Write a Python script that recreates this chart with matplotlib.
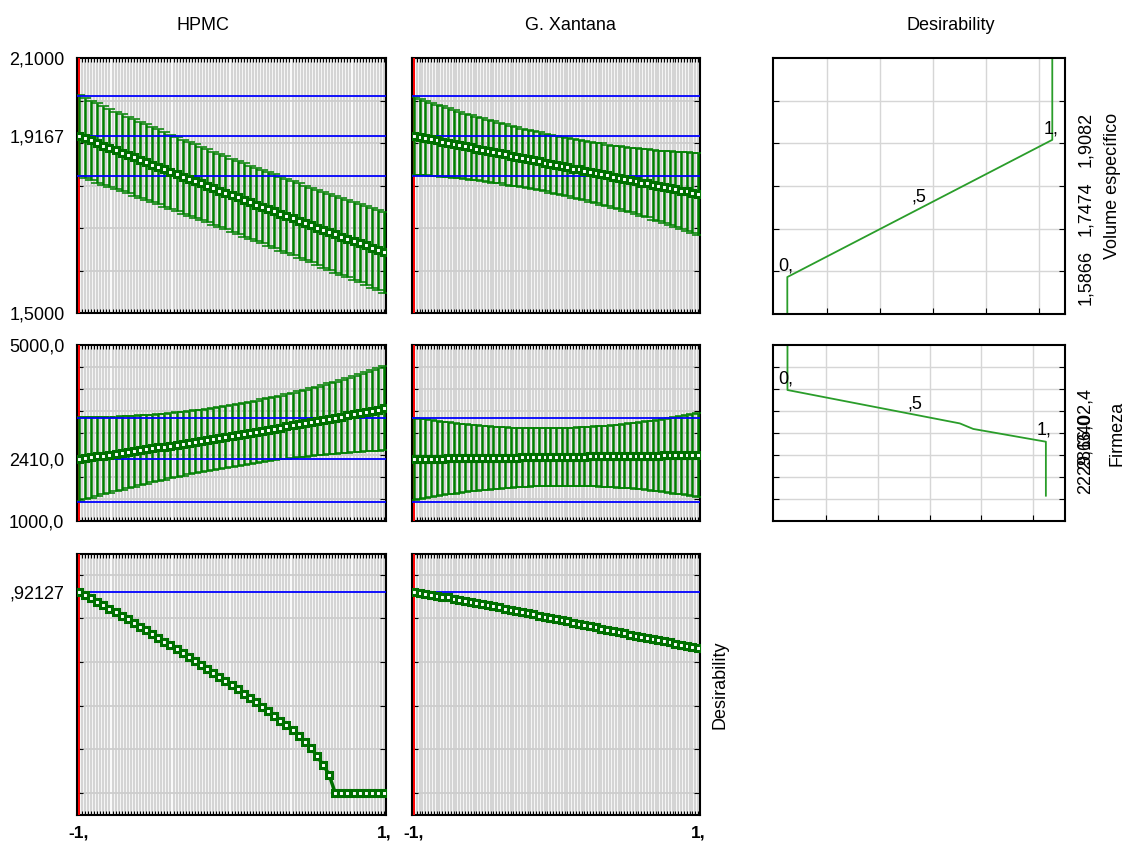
import numpy as np
import matplotlib.pyplot as plt
from matplotlib.transforms import blended_transform_factory as blend

plt.rcParams['font.family'] = ['Liberation Sans', 'DejaVu Sans']
plt.rcParams['font.size'] = 13

W, H = 1128, 844

# coded factor levels (-1 .. 1), same grid for both factors
levels = np.linspace(-1, 1, 51)

# Volume especifico: predicted mean and confidence half-width
vol_hpmc_mean = [1.917, 1.911, 1.906, 1.900, 1.894, 1.889, 1.883, 1.877, 1.872, 1.866,
                 1.860, 1.855, 1.849, 1.844, 1.838, 1.832, 1.827, 1.821, 1.816, 1.810,
                 1.805, 1.799, 1.794, 1.788, 1.783, 1.777, 1.772, 1.766, 1.761, 1.755,
                 1.750, 1.744, 1.739, 1.734, 1.728, 1.723, 1.717, 1.712, 1.707, 1.701,
                 1.696, 1.691, 1.685, 1.680, 1.675, 1.669, 1.664, 1.659, 1.654, 1.648, 1.643]
vol_hpmc_err = [0.095, 0.094, 0.094, 0.093, 0.092, 0.092, 0.091, 0.091, 0.090, 0.090,
                0.089, 0.089, 0.088, 0.088, 0.088, 0.087, 0.087, 0.087, 0.087, 0.087,
                0.086, 0.086, 0.086, 0.086, 0.086, 0.086, 0.086, 0.086, 0.086, 0.086,
                0.086, 0.087, 0.087, 0.087, 0.087, 0.087, 0.088, 0.088, 0.088, 0.089,
                0.089, 0.090, 0.090, 0.091, 0.091, 0.092, 0.092, 0.093, 0.094, 0.094, 0.095]
vol_xan_mean = [1.917, 1.914, 1.912, 1.909, 1.906, 1.903, 1.901, 1.898, 1.895, 1.892,
                1.890, 1.887, 1.884, 1.881, 1.879, 1.876, 1.873, 1.870, 1.868, 1.865,
                1.862, 1.860, 1.857, 1.854, 1.851, 1.849, 1.846, 1.843, 1.840, 1.838,
                1.835, 1.832, 1.829, 1.827, 1.824, 1.821, 1.818, 1.816, 1.813, 1.810,
                1.807, 1.805, 1.802, 1.799, 1.796, 1.794, 1.791, 1.788, 1.786, 1.783, 1.780]
vol_xan_err = [0.092, 0.090, 0.088, 0.086, 0.084, 0.083, 0.081, 0.080, 0.078, 0.077,
               0.076, 0.075, 0.074, 0.073, 0.072, 0.071, 0.071, 0.070, 0.069, 0.069,
               0.069, 0.068, 0.068, 0.068, 0.068, 0.068, 0.068, 0.068, 0.069, 0.069,
               0.070, 0.070, 0.071, 0.072, 0.072, 0.073, 0.074, 0.075, 0.076, 0.078,
               0.079, 0.080, 0.082, 0.083, 0.085, 0.087, 0.088, 0.090, 0.092, 0.094, 0.097]

# Firmeza: predicted mean and confidence half-width
firm_hpmc_mean = [2410, 2429, 2448, 2468, 2487, 2507, 2527, 2547, 2567, 2587,
                  2608, 2629, 2650, 2671, 2692, 2713, 2734, 2756, 2778, 2800,
                  2822, 2844, 2867, 2889, 2912, 2935, 2958, 2981, 3005, 3028,
                  3052, 3076, 3100, 3124, 3148, 3173, 3198, 3223, 3248, 3273,
                  3298, 3323, 3349, 3375, 3401, 3427, 3453, 3480, 3506, 3533, 3560]
firm_hpmc_err = [957, 937, 918, 899, 881, 864, 848, 833, 819, 805,
                 793, 781, 769, 759, 750, 741, 733, 726, 720, 715,
                 710, 707, 704, 702, 700, 700, 700, 702, 704, 707,
                 710, 715, 720, 726, 733, 741, 750, 759, 769, 781,
                 793, 805, 819, 833, 848, 864, 881, 899, 918, 937, 957]
firm_xan_mean = [2410, 2412, 2414, 2415, 2417, 2419, 2421, 2423, 2424, 2426,
                 2428, 2430, 2432, 2433, 2435, 2437, 2439, 2441, 2442, 2444,
                 2446, 2448, 2450, 2451, 2453, 2455, 2457, 2459, 2460, 2462,
                 2464, 2466, 2468, 2469, 2471, 2473, 2475, 2477, 2478, 2480,
                 2482, 2484, 2486, 2487, 2489, 2491, 2493, 2495, 2496, 2498, 2500]
firm_xan_err = [940, 917, 896, 875, 855, 836, 818, 801, 785, 770,
                756, 743, 730, 719, 708, 699, 690, 683, 676, 670,
                665, 661, 658, 656, 655, 655, 656, 657, 660, 664,
                668, 674, 680, 687, 696, 705, 715, 726, 738, 751,
                765, 780, 795, 812, 830, 848, 868, 888, 909, 932, 955]

# overall desirability
des_hpmc = [0.921, 0.907, 0.892, 0.877, 0.861, 0.845, 0.829, 0.813, 0.797, 0.780,
            0.763, 0.746, 0.729, 0.712, 0.694, 0.677, 0.659, 0.641, 0.623, 0.605,
            0.587, 0.569, 0.550, 0.532, 0.513, 0.494, 0.475, 0.456, 0.436, 0.416,
            0.396, 0.375, 0.354, 0.332, 0.310, 0.287, 0.262, 0.236, 0.208, 0.170,
            0.130, 0.085, 0, 0, 0, 0, 0, 0, 0, 0, 0]
des_xan = [0.921, 0.917, 0.913, 0.909, 0.904, 0.900, 0.896, 0.891, 0.886, 0.881,
           0.877, 0.872, 0.866, 0.861, 0.856, 0.851, 0.845, 0.840, 0.834, 0.829,
           0.824, 0.818, 0.813, 0.807, 0.802, 0.797, 0.791, 0.786, 0.780, 0.775,
           0.770, 0.764, 0.759, 0.753, 0.748, 0.743, 0.737, 0.732, 0.726, 0.721,
           0.716, 0.711, 0.705, 0.700, 0.695, 0.690, 0.685, 0.679, 0.674, 0.669, 0.664]

# current predicted values with confidence limits (blue lines)
vol_now = [2.0106, 1.9167, 1.8223]
firm_now = [3333, 2410, 1439]
des_now = 0.92127

# desirability functions (desirability, response)
vol_fun_d = [0, 0, 0.5, 1, 1]
vol_fun_y = [1.5, 1.5866, 1.7474, 1.9082, 2.1]
firm_fun_d = [0, 0, 0.667, 0.719, 1, 1]
firm_fun_y = [5000, 3977, 3218, 3092, 2802, 1575]
vol_fun_pts = [(0, 1.5866, '0,'), (0.5, 1.7474, ',5'), (1, 1.9082, '1,')]
firm_fun_pts = [(0, 3977, '0,'), (0.5, 3408, ',5'), (1, 2802, '1,')]
vol_marks = [1.5866, 1.7474, 1.9082]
vol_mark_text = ['1,5866', '1,7474', '1,9082']
firm_marks = [2229.6, 2816.0, 3402.4]
firm_mark_text = ['2229,6', '2816,0', '3402,4']

GREEN = '#008000'
DARK = '#007000'

fig = plt.figure(figsize=(W / 100, H / 100), dpi=100)


def box(l, t, w, h):
    return fig.add_axes([l / W, 1 - (t + h) / H, w / W, h / H])


def profile(ax, mean, err, ylim, grid_y, now, ylabels=None):
    ax.set_xlim(-1.013, 1.013)
    ax.set_ylim(*ylim)
    ax.set_xticks(np.linspace(-1, 1, 101))
    ax.tick_params(axis='x', direction='in', length=3, width=0.8, top=True,
                   labelbottom=False)
    ax.grid(axis='x', color='#d4d4d4', lw=1.6)
    ax.set_yticks(grid_y, minor=True)
    ax.tick_params(axis='y', which='minor', direction='in', length=4, width=0.8,
                   right=True)
    ax.grid(axis='y', which='minor', color='#cdcdcd', lw=1.3)
    if ylabels:
        ax.set_yticks(ylabels[0])
        ax.set_yticklabels(ylabels[1])
    else:
        ax.set_yticks([])
    ax.tick_params(axis='y', which='major', length=0, pad=9, labelsize=13)
    ax.set_axisbelow(True)
    ax.axvline(-1, color='red', lw=1.4, zorder=3)
    if err is not None:
        ax.errorbar(levels, mean, yerr=err, fmt='none', ecolor=GREEN,
                    elinewidth=1.8, capsize=4.4, capthick=1.1, zorder=3)
    for v in now:
        ax.axhline(v, color='#0000ff', lw=1.3, zorder=4)
    ax.plot(levels, mean, color=DARK, lw=2.5, marker='s', ms=5, mfc='white',
            mec=DARK, mew=2.2, zorder=5)
    for s in ax.spines.values():
        s.set_linewidth(1.5)


def des_fun(ax, d, y, xlim, ylim, grid_y, pts, marks, mark_text, name, name_x):
    ax.set_xlim(*xlim)
    ax.set_ylim(*ylim)
    ax.set_xticks([0.15, 0.35, 0.55, 0.75, 0.95])
    ax.set_yticks(grid_y)
    ax.tick_params(direction='in', length=4, width=0.8, right=True,
                   labelbottom=False, labelleft=False)
    ax.grid(color='#d6d6d6', lw=1.0)
    ax.set_axisbelow(True)
    ax.plot(d, y, color='#2a9d2a', lw=1.3, clip_on=False)
    for px, py, t in pts:
        ax.annotate(t, (px, py), xytext=(-1, 2), textcoords='offset points',
                    ha='center', va='bottom', fontsize=13)
    tr = blend(ax.transAxes, ax.transData)
    for v, t in zip(marks, mark_text):
        ax.text(1.069, v, t, transform=tr, rotation=90, ha='center', va='center',
                fontsize=13)
    ax.text(name_x, 0.5, name, transform=ax.transAxes, rotation=90,
            ha='center', va='center', fontsize=13)
    for s in ax.spines.values():
        s.set_linewidth(1.5)


vol_grid = [1.6, 1.7, 1.8, 1.9, 2.0]
firm_grid = [1500, 2000, 2500, 3000, 3500, 4000, 4500]
des_grid = [0, 0.2, 0.4, 0.6, 0.8, 1.0]

a = box(77, 58, 309, 255)
profile(a, vol_hpmc_mean, vol_hpmc_err, (1.5, 2.1), vol_grid, vol_now,
        ([1.5, 1.9167, 2.1], ['1,5000', '1,9167', '2,1000']))
a = box(412, 58, 288, 255)
profile(a, vol_xan_mean, vol_xan_err, (1.5, 2.1), vol_grid, vol_now)

a = box(77, 345, 309, 176)
profile(a, firm_hpmc_mean, firm_hpmc_err, (1000, 5000), firm_grid, firm_now,
        ([1000, 2410, 5000], ['1000,0', '2410,0', '5000,0']))
a = box(412, 345, 288, 176)
profile(a, firm_xan_mean, firm_xan_err, (1000, 5000), firm_grid, firm_now)

bottom_axes = []
a = box(77, 554, 309, 261)
profile(a, des_hpmc, None, (-0.1, 1.095), des_grid, [des_now],
        ([des_now], [',92127']))
bottom_axes.append(a)
a = box(412, 554, 288, 261)
profile(a, des_xan, None, (-0.1, 1.095), des_grid, [des_now])
bottom_axes.append(a)
a.text(1.069, 0.5, 'Desirability', transform=a.transAxes, rotation=90,
       ha='center', va='center', fontsize=13)
for a in bottom_axes:
    tr = blend(a.transData, a.transAxes)
    a.text(-1, -0.07, '-1,', transform=tr, ha='center', va='center',
           fontsize=12.5, fontweight='bold')
    a.text(1, -0.07, '1,', transform=tr, ha='center', va='center',
           fontsize=12.5, fontweight='bold')

a = box(773, 58, 292, 256)
des_fun(a, vol_fun_d, vol_fun_y, (-0.054, 1.048), (1.5, 2.1), vol_grid,
        vol_fun_pts, vol_marks, vol_mark_text, 'Volume específico', 1.164)
a = box(773, 345, 292, 176)
des_fun(a, firm_fun_d, firm_fun_y, (-0.056, 1.074), (1000, 5000), firm_grid,
        firm_fun_pts, firm_marks, firm_mark_text, 'Firmeza', 1.178)

fig.text(203 / W, 1 - 25 / H, 'HPMC', ha='center', va='center', fontsize=13)
fig.text(570 / W, 1 - 25 / H, 'G. Xantana', ha='center', va='center', fontsize=13)
fig.text(951 / W, 1 - 25 / H, 'Desirability', ha='center', va='center', fontsize=13)

fig.savefig('out.png', dpi=100)
